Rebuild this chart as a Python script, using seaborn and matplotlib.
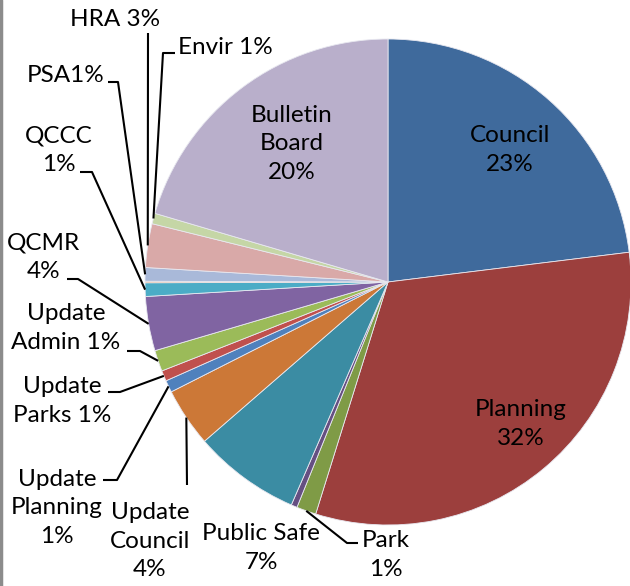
import numpy as np
import matplotlib
matplotlib.use("Agg")
import matplotlib.pyplot as plt
import seaborn as sns

# Slice data, clockwise from 12 o'clock
names = ["Council", "Planning", "Park", "", "Public Safe", "Update Council",
         "Update Planning", "Update Parks", "Update Admin", "QCMR", "QCCC",
         "", "PSA", "HRA", "Envir", "Bulletin Board"]
values = [23.0, 31.7, 1.3, 0.4, 7.1, 3.9, 0.8, 0.7, 1.4, 3.6, 0.9,
          0.1, 0.9, 2.9, 0.7, 20.4]
colors = ["#3F6A9C", "#9C3F3D", "#7F9B46", "#654F82", "#3B8CA3", "#CC7837",
          "#4F81BD", "#C0504D", "#9BBB59", "#8064A2", "#4BACC6",
          "#F79646", "#A9B9D9", "#D9A9A8", "#C5D6A6", "#B9AFCB"]

sns.set_theme(style="white")
plt.rcParams["font.family"] = ["Lato", "DejaVu Sans"]

W, H = 630, 586
fig = plt.figure(figsize=(W / 100, H / 100), dpi=100)
ax = fig.add_axes([0, 0, 1, 1])

cx, cy, r = 388, H - 282, 243
wedges, _ = ax.pie(values, colors=colors, startangle=90, counterclock=False,
                   center=(cx, cy), radius=r, frame=True,
                   wedgeprops={"linewidth": 0.6, "edgecolor": "#E8E8F0"})
ax.set_xlim(0, W)
ax.set_ylim(0, H)
ax.set_aspect("equal")
ax.axis("off")

total = sum(values)
pct = [f"{round(v / total * 100)}%" for v in values]

def edge_point(i):
    w = wedges[i]
    a = np.deg2rad((w.theta1 + w.theta2) / 2)
    return cx + r * np.cos(a), cy + r * np.sin(a)

fs = 17.5
# slice index, label text, text centre (image px), leader elbow points (image px)
labels = [
    (0, f"Council\n{pct[0]}", (510, 150), None),
    (1, f"Planning\n{pct[1]}", (521, 424), None),
    (15, f"Bulletin\nBoard\n{pct[15]}", (292, 144), None),
    (4, f"Public Safe\n{pct[4]}", (261, 548), None),
    (2, f"Park\n{pct[2]}", (386, 555), [(358, 543), (347, 543)]),
    (5, f"Update\nCouncil\n{pct[5]}", (150, 541), [(187, 485)]),
    (6, f"Update\nPlanning\n{pct[6]}", (57, 508), [(103, 480), (117, 480)]),
    (7, f"Update\nParks {pct[7]}", (62, 401), [(108, 392), (120, 392)]),
    (8, f"Update\nAdmin {pct[8]}", (66, 328), [(127, 351), (140, 351)]),
    (9, f"QCMR\n{pct[9]}", (44, 257), [(67, 279), (78, 279)]),
    (10, f"QCCC\n{pct[10]}", (59, 150), [(80, 172), (92, 172)]),
    (12, f"PSA{pct[12]}", (66, 75), [(108, 82), (118, 82)]),
    (13, f"HRA {pct[13]}", (115, 20), [(148, 33)]),
    (14, f"Envir {pct[14]}", (225, 47), [(175, 53), (163, 53)]),
]

for i, text, (tx, ty), leader in labels:
    ax.text(tx, H - ty, text, ha="center", va="center", fontsize=fs,
            color="black", linespacing=1.45)
    if leader:
        px = [p[0] for p in leader]
        py = [H - p[1] for p in leader]
        ex, ey = edge_point(i)
        px.append(ex)
        py.append(ey)
        ax.plot(px, py, color="black", linewidth=1.5, solid_capstyle="butt")

# left border of the chart area
ax.plot([1, 1], [0, H], color="#8C8C8C", linewidth=2.5)

fig.savefig("out.png", dpi=100, facecolor="white")
